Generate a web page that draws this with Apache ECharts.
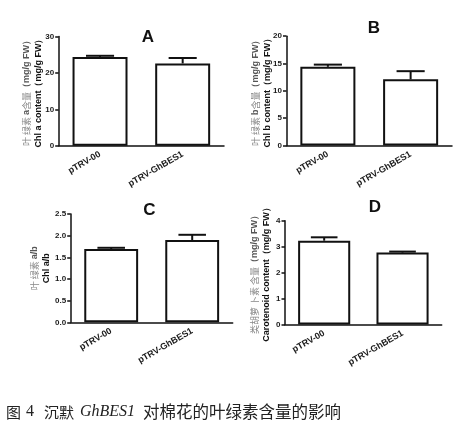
<!DOCTYPE html>
<html><head><meta charset="utf-8">
<script src="https://cdn.jsdelivr.net/npm/echarts@6/dist/echarts.min.js"></script>
<style>html,body{margin:0;padding:0;background:#fff}#c{width:464px;height:422px}</style>
</head><body><div id="c"></div>
<script>
// ---- data ----
const categories = ['pTRV-00', 'pTRV-GhBES1'];
const chlA = [24.4, 22.6];
const chlAErr = [0.3, 1.5];
const chlB = [14.4, 12.1];
const chlBErr = [0.4, 1.5];
const chlRatio = [1.69, 1.90];
const chlRatioErr = [0.03, 0.12];
const carot = [3.23, 2.77];
const carotErr = [0.13, 0.04];
const panelLetters = ['A', 'B', 'C', 'D'];
const yMax = [30, 20, 2.5, 4];
const yInterval = [10, 5, 0.5, 1];
const yDecimals = [0, 0, 1, 0];
const nameCn = ['叶 绿素 a含量（mg/g FW）', '叶 绿素 b含量（mg/g FW）', '叶 绿素 a/b', '类胡萝 卜素 含量（mg/g FW）'];
const nameEn = ['Chl a content（mg/g FW）', 'Chl b content（mg/g FW）', 'Chl a/b', 'Carotenoid content（mg/g FW）'];
const captionParts = ['图', '4', '沉默', 'GhBES1', '对棉花的叶绿素含量的影响'];

const values = [chlA, chlB, chlRatio, carot];
const errors = [chlAErr, chlBErr, chlRatioErr, carotErr];

// ---- layout ----
const grids = [
  {left: 58.7, top: 36.5, width: 165.3, height: 109.2},
  {left: 286.5, top: 36.2, width: 165.5, height: 109.3},
  {left: 70.7, top: 214, width: 162, height: 108.3},
  {left: 285, top: 220.7, width: 156.7, height: 103.8}
];
const nameGaps = [14, 13, 18, 12.5];
const letterPos = [[148, 37], [374, 28], [149.5, 210], [375, 207.5]];

const SANS = '"Liberation Sans", Arial, sans-serif';
const CJK = '"Noto Sans CJK SC", sans-serif';

function isCjk(ch) { return /[\u3000-\u9fff\uff00-\uffef]/.test(ch); }
function cnRich(s) {
  let out = '', cur = '', curType = null;
  for (const ch of s) {
    const t = (ch === ' ') ? curType || 'g' : (isCjk(ch) && ch !== '（' && ch !== '）' ? 'g' : 'd');
    if (curType !== null && t !== curType) { out += '{' + curType + '|' + cur + '}'; cur = ''; }
    curType = t; cur += ch;
  }
  if (cur) out += '{' + curType + '|' + cur + '}';
  return out;
}

const chart = echarts.init(document.getElementById('c'), null, {renderer: 'canvas'});

const option = {
  backgroundColor: '#fff',
  animation: false,
  grid: grids.map(g => Object.assign({containLabel: false}, g)),
  xAxis: grids.map((g, i) => ({
    type: 'category', gridIndex: i, data: categories,
    axisLine: {lineStyle: {color: '#111', width: 1.5}},
    axisTick: {alignWithLabel: true, length: 3.5, lineStyle: {color: '#111', width: 1.5}},
    axisLabel: {rotate: 30, margin: 8, fontSize: 9, fontWeight: 'bold', color: '#1a1a1a', fontFamily: SANS, interval: 0}
  })),
  yAxis: grids.map((g, i) => ({
    type: 'value', gridIndex: i, min: 0, max: yMax[i], interval: yInterval[i],
    splitLine: {show: false},
    axisLine: {show: true, lineStyle: {color: '#111', width: 1.5}},
    axisTick: {show: true, length: 3.5, lineStyle: {color: '#111', width: 1.5}},
    axisLabel: {margin: 4.5, fontSize: 8, fontWeight: 'bold', color: '#1a1a1a', fontFamily: SANS,
      formatter: v => v.toFixed(yDecimals[i])},
    name: cnRich(nameCn[i]) + '\n{e|' + nameEn[i] + '}',
    nameLocation: 'middle', nameGap: nameGaps[i], nameRotate: 90,
    nameMoveOverlap: false,
    nameTextStyle: {
      align: 'center', lineHeight: 12,
      rich: {
        g: {fontSize: 9, color: '#888', fontFamily: CJK, lineHeight: 12},
        d: {fontSize: 9, color: '#555', fontWeight: 'bold', fontFamily: SANS, lineHeight: 12},
        e: {fontSize: 9, color: '#111', fontWeight: 'bold', fontFamily: SANS, lineHeight: 12}
      }
    }
  })),
  series: [].concat(
    values.map((vals, i) => ({
      type: 'bar', xAxisIndex: i, yAxisIndex: i, data: vals, barWidth: '66.5%',
      itemStyle: {color: '#fff', borderColor: '#111', borderWidth: 2},
      z: 2
    })),
    values.map((vals, i) => ({
      type: 'custom', xAxisIndex: i, yAxisIndex: i, z: 3,
      data: vals.map((v, k) => [k, v, errors[i][k]]),
      encode: {x: 0, y: 1},
      renderItem: function (params, api) {
        const k = api.value(0), v = api.value(1), e = api.value(2);
        const base = api.coord([k, v]);
        const top = api.coord([k, v + e]);
        const half = api.size([1, 0])[0] * 0.17;
        return {type: 'group', children: [
          {type: 'line', shape: {x1: top[0], y1: base[1], x2: top[0], y2: top[1]}, style: {stroke: '#111', lineWidth: 2}},
          {type: 'line', shape: {x1: top[0] - half, y1: top[1], x2: top[0] + half, y2: top[1]}, style: {stroke: '#111', lineWidth: 2}}
        ]};
      }
    }))
  ),
  graphic: [].concat(
    panelLetters.map((L, i) => ({
      type: 'text', x: letterPos[i][0], y: letterPos[i][1],
      style: {text: L, font: 'bold 17px ' + SANS, fill: '#111', textAlign: 'center', textVerticalAlign: 'middle'}
    })),
    [
      {type: 'text', x: 6, y: 412, style: {text: captionParts[0], font: '15px ' + CJK, fill: '#222', textVerticalAlign: 'middle'}},
      {type: 'text', x: 26, y: 412, style: {text: captionParts[1], font: '16px "Liberation Serif", serif', fill: '#222', textVerticalAlign: 'middle'}},
      {type: 'text', x: 44, y: 412, style: {text: captionParts[2], font: '15px ' + CJK, fill: '#222', textVerticalAlign: 'middle'}},
      {type: 'text', x: 80, y: 412, style: {text: captionParts[3], font: 'italic 16px "Liberation Serif", serif', fill: '#222', textVerticalAlign: 'middle'}},
      {type: 'text', x: 143, y: 412, style: {text: captionParts[4], font: '16.5px ' + CJK, fill: '#222', textVerticalAlign: 'middle'}}
    ]
  )
};
chart.setOption(option);
</script></body></html>
